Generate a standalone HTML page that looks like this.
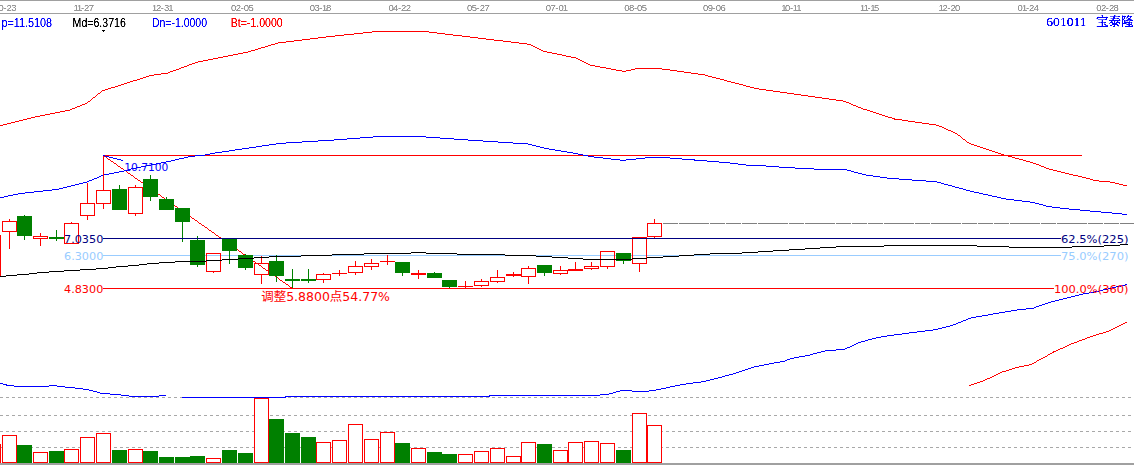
<!DOCTYPE html><html><head><meta charset="utf-8"><title>601011 宝泰隆</title>
<style>html,body{margin:0;padding:0;background:#fff;overflow:hidden}svg{display:block}.d{font-family:"Liberation Sans",sans-serif;font-size:9.5px;fill:#989898}.h{font-family:"Liberation Sans",sans-serif;font-size:12px}.v{font-family:"DejaVu Sans","Noto Sans CJK SC",sans-serif;font-size:11px}.c{font-family:"Liberation Serif","Noto Serif CJK SC",serif;font-size:13px;fill:#0000ff}</style></head><body>
<svg width="1134" height="465" viewBox="0 0 1134 465" shape-rendering="crispEdges">
<defs><filter id="al" x="0" y="0" width="100%" height="100%" filterUnits="userSpaceOnUse" color-interpolation-filters="sRGB"><feComponentTransfer><feFuncA type="linear" slope="2" intercept="-0.3"/></feComponentTransfer></filter><filter id="al2" x="0" y="0" width="100%" height="100%" filterUnits="userSpaceOnUse" color-interpolation-filters="sRGB"><feComponentTransfer><feFuncA type="linear" slope="2.2" intercept="-0.1"/></feComponentTransfer></filter><filter id="al3" x="0" y="0" width="100%" height="100%" filterUnits="userSpaceOnUse" color-interpolation-filters="sRGB"><feComponentTransfer><feFuncA type="linear" slope="1.4" intercept="-0.1"/></feComponentTransfer></filter></defs>
<rect x="0" y="0" width="1134" height="465" fill="#ffffff"/>
<rect x="0" y="0" width="1134" height="1" fill="#a0a0a0"/>
<rect x="0" y="13" width="1134" height="1" fill="#a0a0a0"/>
<rect x="0" y="463" width="1134" height="2" fill="#a0a0a0"/>
<line x1="0" y1="397.5" x2="1134" y2="397.5" stroke="#a8a8a8" stroke-width="1" stroke-dasharray="3 3"/>
<line x1="0" y1="415.5" x2="1134" y2="415.5" stroke="#a8a8a8" stroke-width="1" stroke-dasharray="3 3"/>
<line x1="0" y1="431.5" x2="1134" y2="431.5" stroke="#a8a8a8" stroke-width="1" stroke-dasharray="3 3"/>
<line x1="0" y1="447.5" x2="1134" y2="447.5" stroke="#a8a8a8" stroke-width="1" stroke-dasharray="3 3"/>
<g filter="url(#al)">
<text class="d" x="-5.2 -1.4 3.5 6.6 11.3" y="11">10-23</text>
<text class="d" x="73.5 77.0 81.0 84.0 88.8" y="11">11-27</text>
<text class="d" x="152.1 155.9 160.8 163.9 168.3" y="11">12-31</text>
<text class="d" x="231.1 235.8 240.7 243.8 248.4" y="11">02-05</text>
<text class="d" x="309.7 314.4 319.3 322.1 325.9" y="11">03-18</text>
<text class="d" x="388.4 393.1 397.9 401.1 405.8" y="11">04-22</text>
<text class="d" x="467.0 471.7 476.6 479.7 484.4" y="11">05-27</text>
<text class="d" x="545.7 550.4 555.3 558.4 562.8" y="11">07-01</text>
<text class="d" x="624.3 629.0 633.9 637.0 641.7" y="11">08-05</text>
<text class="d" x="703.0 707.7 712.6 715.7 720.4" y="11">09-06</text>
<text class="d" x="781.3 785.1 790.0 792.8 796.3" y="11">10-11</text>
<text class="d" x="860.0 863.5 867.5 870.2 874.1" y="11">11-15</text>
<text class="d" x="938.6 942.4 947.3 950.4 955.1" y="11">12-20</text>
<text class="d" x="1017.6 1022.0 1026.0 1029.0 1033.8" y="11">01-24</text>
<text class="d" x="1096.2 1100.9 1105.8 1108.9 1113.6" y="11">02-28</text>
<text class="h" x="1.5" y="27" fill="#0000ff" textLength="50.6" lengthAdjust="spacingAndGlyphs">p=11.5108</text>
<text class="h" x="72.6" y="27" fill="#000000" textLength="53.2" lengthAdjust="spacingAndGlyphs">Md=6.3716</text>
<text class="h" x="151.9" y="27" fill="#0000ff" textLength="55.1" lengthAdjust="spacingAndGlyphs">Dn=-1.0000</text>
<text class="h" x="230.7" y="27" fill="#ff0000" textLength="52" lengthAdjust="spacingAndGlyphs">Bt=-1.0000</text>
<text class="c" x="1046.3" y="26.3" filter="url(#al3)" textLength="40.4" lengthAdjust="spacingAndGlyphs">601011</text>
<text class="c" x="1096" y="26.3" filter="url(#al2)" textLength="37.6" lengthAdjust="spacing" style="font-size:12.5px">宝泰隆</text>
</g>
<polygon points="102,30 105,30 103.5,32" fill="#000"/>
<rect x="103" y="155" width="979" height="1" fill="#ff0000"/>
<rect x="103" y="255" width="958" height="1" fill="#99ccff"/>
<rect x="103" y="288" width="951" height="1" fill="#ff0000"/>
<path fill="#ff0000" d="M103 155h1v1h-1zM104 156h2v1h-2zM106 157h1v1h-1zM107 158h1v1h-1zM108 159h2v1h-2zM110 160h1v1h-1zM111 161h2v1h-2zM113 162h1v1h-1zM114 163h2v1h-2zM116 164h1v1h-1zM117 165h1v1h-1zM118 166h2v1h-2zM120 167h1v1h-1zM121 168h2v1h-2zM123 169h1v1h-1zM124 170h2v1h-2zM126 171h1v1h-1zM127 172h1v1h-1zM128 173h2v1h-2zM130 174h1v1h-1zM131 175h2v1h-2zM133 176h1v1h-1zM134 177h1v1h-1zM135 178h2v1h-2zM137 179h1v1h-1zM138 180h2v1h-2zM140 181h1v1h-1zM141 182h2v1h-2zM143 183h1v1h-1zM144 184h1v1h-1zM145 185h2v1h-2zM147 186h1v1h-1zM148 187h2v1h-2zM150 188h1v1h-1zM151 189h2v1h-2zM153 190h1v1h-1zM154 191h1v1h-1zM155 192h2v1h-2zM157 193h1v1h-1zM158 194h2v1h-2zM160 195h1v1h-1zM161 196h1v1h-1zM162 197h2v1h-2zM164 198h1v1h-1zM165 199h2v1h-2zM167 200h1v1h-1zM168 201h2v1h-2zM170 202h1v1h-1zM171 203h1v1h-1zM172 204h2v1h-2zM174 205h1v1h-1zM175 206h2v1h-2zM177 207h1v1h-1zM178 208h2v1h-2zM180 209h1v1h-1zM181 210h1v1h-1zM182 211h2v1h-2zM184 212h1v1h-1zM185 213h2v1h-2zM187 214h1v1h-1zM188 215h1v1h-1zM189 216h2v1h-2zM191 217h1v1h-1zM192 218h2v1h-2zM194 219h1v1h-1zM195 220h2v1h-2zM197 221h1v1h-1zM198 222h1v1h-1zM199 223h2v1h-2zM201 224h1v1h-1zM202 225h2v1h-2zM204 226h1v1h-1zM205 227h2v1h-2zM207 228h1v1h-1zM208 229h1v1h-1zM209 230h2v1h-2zM211 231h1v1h-1zM212 232h2v1h-2zM214 233h1v1h-1zM215 234h1v1h-1zM216 235h2v1h-2zM218 236h1v1h-1zM219 237h2v1h-2zM221 238h1v1h-1zM222 239h2v1h-2zM224 240h1v1h-1zM225 241h1v1h-1zM226 242h2v1h-2zM228 243h1v1h-1zM229 244h2v1h-2zM231 245h1v1h-1zM232 246h2v1h-2zM234 247h1v1h-1zM235 248h1v1h-1zM236 249h2v1h-2zM238 250h1v1h-1zM239 251h2v1h-2zM241 252h1v1h-1zM242 253h1v1h-1zM243 254h2v1h-2zM245 255h1v1h-1zM246 256h2v1h-2zM248 257h1v1h-1zM249 258h2v1h-2zM251 259h1v1h-1zM252 260h1v1h-1zM253 261h2v1h-2zM255 262h1v1h-1zM256 263h2v1h-2zM258 264h1v1h-1zM259 265h2v1h-2zM261 266h1v1h-1zM262 267h1v1h-1zM263 268h2v1h-2zM265 269h1v1h-1zM266 270h2v1h-2zM268 271h1v1h-1zM269 272h1v1h-1zM270 273h2v1h-2zM272 274h1v1h-1zM273 275h2v1h-2zM275 276h1v1h-1zM276 277h2v1h-2zM278 278h1v1h-1zM279 279h1v1h-1zM280 280h2v1h-2zM282 281h1v1h-1zM283 282h2v1h-2zM285 283h1v1h-1zM286 284h2v1h-2zM288 285h1v1h-1zM289 286h1v1h-1zM290 287h2v1h-2zM292 288h1v1h-1z" />
<rect x="663" y="223" width="15" height="1" fill="#808080"/>
<rect x="679" y="223" width="15" height="1" fill="#808080"/>
<rect x="694" y="223" width="15" height="1" fill="#808080"/>
<rect x="710" y="223" width="15" height="1" fill="#808080"/>
<rect x="726" y="223" width="15" height="1" fill="#808080"/>
<rect x="742" y="223" width="15" height="1" fill="#808080"/>
<rect x="758" y="223" width="15" height="1" fill="#808080"/>
<rect x="773" y="223" width="15" height="1" fill="#808080"/>
<rect x="789" y="223" width="15" height="1" fill="#808080"/>
<rect x="805" y="223" width="15" height="1" fill="#808080"/>
<rect x="820" y="223" width="15" height="1" fill="#808080"/>
<rect x="836" y="223" width="15" height="1" fill="#808080"/>
<rect x="852" y="223" width="15" height="1" fill="#808080"/>
<rect x="868" y="223" width="15" height="1" fill="#808080"/>
<rect x="884" y="223" width="15" height="1" fill="#808080"/>
<rect x="899" y="223" width="15" height="1" fill="#808080"/>
<rect x="915" y="223" width="15" height="1" fill="#808080"/>
<rect x="931" y="223" width="15" height="1" fill="#808080"/>
<rect x="946" y="223" width="15" height="1" fill="#808080"/>
<rect x="962" y="223" width="15" height="1" fill="#808080"/>
<rect x="978" y="223" width="15" height="1" fill="#808080"/>
<rect x="994" y="223" width="15" height="1" fill="#808080"/>
<rect x="1010" y="223" width="15" height="1" fill="#808080"/>
<rect x="1025" y="223" width="15" height="1" fill="#808080"/>
<rect x="1041" y="223" width="15" height="1" fill="#808080"/>
<rect x="1057" y="223" width="15" height="1" fill="#808080"/>
<rect x="1072" y="223" width="15" height="1" fill="#808080"/>
<rect x="1088" y="223" width="15" height="1" fill="#808080"/>
<rect x="1104" y="223" width="15" height="1" fill="#808080"/>
<rect x="1120" y="223" width="15" height="1" fill="#808080"/>
<path fill="#ff0000" d="M372 31h57v1h-57zM363 32h9v1h-9zM429 32h8v1h-8zM354 33h9v1h-9zM437 33h8v1h-8zM344 34h10v1h-10zM445 34h8v1h-8zM335 35h9v1h-9zM453 35h9v1h-9zM326 36h9v1h-9zM462 36h8v1h-8zM318 37h8v1h-8zM470 37h8v1h-8zM310 38h8v1h-8zM478 38h8v1h-8zM302 39h8v1h-8zM486 39h8v1h-8zM294 40h8v1h-8zM494 40h9v1h-9zM286 41h8v1h-8zM503 41h8v1h-8zM278 42h8v1h-8zM511 42h8v1h-8zM275 43h3v1h-3zM519 43h8v1h-8zM271 44h4v1h-4zM527 44h4v1h-4zM268 45h3v1h-3zM531 45h2v1h-2zM265 46h3v1h-3zM533 46h2v1h-2zM261 47h4v1h-4zM535 47h2v1h-2zM258 48h3v1h-3zM537 48h2v1h-2zM255 49h3v1h-3zM539 49h2v1h-2zM251 50h4v1h-4zM541 50h2v1h-2zM248 51h3v1h-3zM543 51h4v1h-4zM243 52h5v1h-5zM547 52h5v1h-5zM238 53h5v1h-5zM552 53h5v1h-5zM233 54h5v1h-5zM557 54h5v1h-5zM228 55h5v1h-5zM562 55h4v1h-4zM223 56h5v1h-5zM566 56h5v1h-5zM218 57h5v1h-5zM571 57h5v1h-5zM213 58h5v1h-5zM576 58h2v1h-2zM208 59h5v1h-5zM578 59h2v1h-2zM203 60h5v1h-5zM580 60h2v1h-2zM198 61h5v1h-5zM582 61h2v1h-2zM195 62h3v1h-3zM584 62h2v1h-2zM192 63h3v1h-3zM586 63h2v1h-2zM189 64h3v1h-3zM588 64h2v1h-2zM187 65h2v1h-2zM590 65h5v1h-5zM184 66h3v1h-3zM595 66h5v1h-5zM181 67h3v1h-3zM600 67h6v1h-6zM179 68h2v1h-2zM606 68h5v1h-5zM635 68h27v1h-27zM176 69h3v1h-3zM611 69h5v1h-5zM631 69h4v1h-4zM662 69h8v1h-8zM173 70h3v1h-3zM616 70h6v1h-6zM626 70h5v1h-5zM670 70h7v1h-7zM170 71h3v1h-3zM622 71h4v1h-4zM677 71h7v1h-7zM168 72h2v1h-2zM684 72h7v1h-7zM161 73h7v1h-7zM691 73h7v1h-7zM154 74h7v1h-7zM698 74h7v1h-7zM149 75h5v1h-5zM705 75h3v1h-3zM146 76h3v1h-3zM708 76h4v1h-4zM143 77h3v1h-3zM712 77h4v1h-4zM140 78h3v1h-3zM716 78h4v1h-4zM137 79h3v1h-3zM720 79h4v1h-4zM133 80h4v1h-4zM724 80h3v1h-3zM130 81h3v1h-3zM727 81h4v1h-4zM127 82h3v1h-3zM731 82h4v1h-4zM124 83h3v1h-3zM735 83h4v1h-4zM121 84h3v1h-3zM739 84h4v1h-4zM118 85h3v1h-3zM743 85h3v1h-3zM115 86h3v1h-3zM746 86h4v1h-4zM111 87h4v1h-4zM750 87h4v1h-4zM108 88h3v1h-3zM754 88h5v1h-5zM105 89h3v1h-3zM759 89h7v1h-7zM102 90h3v1h-3zM766 90h7v1h-7zM101 91h1v1h-1zM773 91h7v1h-7zM100 92h1v1h-1zM780 92h7v1h-7zM98 93h2v1h-2zM787 93h7v1h-7zM97 94h1v1h-1zM794 94h7v1h-7zM96 95h1v1h-1zM801 95h7v1h-7zM95 96h1v1h-1zM808 96h7v1h-7zM93 97h2v1h-2zM815 97h7v1h-7zM92 98h1v1h-1zM822 98h7v1h-7zM91 99h1v1h-1zM829 99h7v1h-7zM90 100h1v1h-1zM836 100h7v1h-7zM88 101h2v1h-2zM843 101h3v1h-3zM87 102h1v1h-1zM846 102h3v1h-3zM85 103h2v1h-2zM849 103h2v1h-2zM82 104h3v1h-3zM851 104h2v1h-2zM80 105h2v1h-2zM853 105h3v1h-3zM77 106h3v1h-3zM856 106h2v1h-2zM75 107h2v1h-2zM858 107h3v1h-3zM72 108h3v1h-3zM861 108h2v1h-2zM70 109h2v1h-2zM863 109h4v1h-4zM65 110h5v1h-5zM867 110h3v1h-3zM60 111h5v1h-5zM870 111h3v1h-3zM55 112h5v1h-5zM873 112h3v1h-3zM50 113h5v1h-5zM876 113h3v1h-3zM45 114h5v1h-5zM879 114h3v1h-3zM40 115h5v1h-5zM882 115h3v1h-3zM35 116h5v1h-5zM885 116h3v1h-3zM31 117h4v1h-4zM888 117h4v1h-4zM27 118h4v1h-4zM892 118h3v1h-3zM23 119h4v1h-4zM894 119h8v1h-8zM19 120h4v1h-4zM902 120h6v1h-6zM15 121h4v1h-4zM908 121h7v1h-7zM11 122h4v1h-4zM915 122h7v1h-7zM7 123h4v1h-4zM922 123h7v1h-7zM3 124h4v1h-4zM929 124h7v1h-7zM0 125h3v1h-3zM936 125h3v1h-3zM939 126h3v1h-3zM942 127h2v1h-2zM944 128h2v1h-2zM946 129h2v1h-2zM948 130h3v1h-3zM951 131h2v1h-2zM953 132h2v1h-2zM955 133h2v1h-2zM957 134h1v1h-1zM958 135h2v1h-2zM960 136h1v1h-1zM961 137h1v1h-1zM962 138h1v1h-1zM963 139h2v1h-2zM965 140h1v1h-1zM966 141h1v1h-1zM967 142h2v1h-2zM969 143h2v1h-2zM971 144h3v1h-3zM974 145h3v1h-3zM977 146h3v1h-3zM980 147h3v1h-3zM983 148h3v1h-3zM986 149h3v1h-3zM989 150h3v1h-3zM992 151h3v1h-3zM995 152h3v1h-3zM998 153h3v1h-3zM1001 154h3v1h-3zM1004 155h4v1h-4zM1008 156h4v1h-4zM1012 157h3v1h-3zM1015 158h4v1h-4zM1019 159h4v1h-4zM1023 160h3v1h-3zM1026 161h4v1h-4zM1030 162h3v1h-3zM1033 163h3v1h-3zM1036 164h3v1h-3zM1039 165h2v1h-2zM1041 166h3v1h-3zM1044 167h2v1h-2zM1046 168h3v1h-3zM1049 169h4v1h-4zM1053 170h4v1h-4zM1057 171h4v1h-4zM1061 172h4v1h-4zM1065 173h4v1h-4zM1069 174h4v1h-4zM1073 175h5v1h-5zM1078 176h4v1h-4zM1082 177h4v1h-4zM1086 178h4v1h-4zM1090 179h3v1h-3zM1093 180h6v1h-6zM1099 181h11v1h-11zM1110 182h5v1h-5zM1115 183h4v1h-4zM1119 184h4v1h-4zM1123 185h4v1h-4z" />
<path fill="#ff0000" d="M1125 322h2v1h-2zM1123 323h2v1h-2zM1121 324h2v1h-2zM1119 325h2v1h-2zM1117 326h2v1h-2zM1115 327h2v1h-2zM1113 328h2v1h-2zM1111 329h2v1h-2zM1109 330h2v1h-2zM1106 331h3v1h-3zM1103 332h3v1h-3zM1099 333h4v1h-4zM1096 334h3v1h-3zM1093 335h3v1h-3zM1090 336h3v1h-3zM1087 337h3v1h-3zM1085 338h2v1h-2zM1082 339h3v1h-3zM1079 340h3v1h-3zM1077 341h2v1h-2zM1074 342h3v1h-3zM1071 343h3v1h-3zM1069 344h2v1h-2zM1067 345h2v1h-2zM1065 346h2v1h-2zM1063 347h2v1h-2zM1060 348h3v1h-3zM1058 349h2v1h-2zM1056 350h2v1h-2zM1053 351h3v1h-3zM1052 352h2v1h-2zM1050 353h2v1h-2zM1048 354h2v1h-2zM1047 355h1v1h-1zM1045 356h2v1h-2zM1043 357h2v1h-2zM1041 358h2v1h-2zM1039 359h2v1h-2zM1037 360h2v1h-2zM1036 361h1v1h-1zM1034 362h2v1h-2zM1032 363h2v1h-2zM1029 364h3v1h-3zM1024 365h5v1h-5zM1019 366h5v1h-5zM1015 367h4v1h-4zM1012 368h3v1h-3zM1009 369h3v1h-3zM1006 370h3v1h-3zM1002 371h4v1h-4zM1000 372h2v1h-2zM998 373h2v1h-2zM996 374h2v1h-2zM994 375h2v1h-2zM992 376h2v1h-2zM990 377h2v1h-2zM987 378h3v1h-3zM985 379h2v1h-2zM983 380h2v1h-2zM980 381h3v1h-3zM977 382h3v1h-3zM974 383h3v1h-3zM971 384h3v1h-3zM969 385h2v1h-2z" />
<path fill="#0000ff" d="M373 136h53v1h-53zM360 137h13v1h-13zM426 137h14v1h-14zM347 138h13v1h-13zM440 138h14v1h-14zM334 139h13v1h-13zM454 139h14v1h-14zM318 140h16v1h-16zM468 140h15v1h-15zM302 141h16v1h-16zM483 141h15v1h-15zM286 142h16v1h-16zM498 142h15v1h-15zM276 143h10v1h-10zM513 143h15v1h-15zM269 144h7v1h-7zM528 144h4v1h-4zM262 145h7v1h-7zM532 145h4v1h-4zM256 146h6v1h-6zM536 146h4v1h-4zM249 147h7v1h-7zM540 147h4v1h-4zM242 148h7v1h-7zM544 148h5v1h-5zM235 149h7v1h-7zM549 149h6v1h-6zM229 150h6v1h-6zM555 150h6v1h-6zM222 151h7v1h-7zM561 151h6v1h-6zM215 152h7v1h-7zM567 152h6v1h-6zM210 153h5v1h-5zM573 153h5v1h-5zM205 154h5v1h-5zM578 154h5v1h-5zM195 155h10v1h-10zM583 155h5v1h-5zM188 156h7v1h-7zM588 156h6v1h-6zM184 157h4v1h-4zM594 157h9v1h-9zM645 157h25v1h-25zM179 158h5v1h-5zM603 158h8v1h-8zM636 158h9v1h-9zM670 158h12v1h-12zM175 159h4v1h-4zM611 159h9v1h-9zM626 159h10v1h-10zM682 159h13v1h-13zM171 160h4v1h-4zM620 160h6v1h-6zM694 160h13v1h-13zM166 161h5v1h-5zM707 161h12v1h-12zM161 162h5v1h-5zM719 162h11v1h-11zM156 163h5v1h-5zM730 163h8v1h-8zM151 164h5v1h-5zM738 164h8v1h-8zM146 165h5v1h-5zM746 165h20v1h-20zM141 166h5v1h-5zM766 166h13v1h-13zM136 167h5v1h-5zM779 167h16v1h-16zM131 168h5v1h-5zM795 168h19v1h-19zM128 169h3v1h-3zM814 169h33v1h-33zM124 170h4v1h-4zM847 170h4v1h-4zM119 171h5v1h-5zM851 171h3v1h-3zM114 172h5v1h-5zM854 172h4v1h-4zM109 173h5v1h-5zM858 173h4v1h-4zM104 174h5v1h-5zM862 174h4v1h-4zM101 175h3v1h-3zM866 175h7v1h-7zM99 176h2v1h-2zM873 176h7v1h-7zM97 177h2v1h-2zM880 177h7v1h-7zM94 178h3v1h-3zM887 178h12v1h-12zM92 179h2v1h-2zM899 179h13v1h-13zM89 180h3v1h-3zM912 180h14v1h-14zM87 181h2v1h-2zM926 181h11v1h-11zM83 182h4v1h-4zM937 182h4v1h-4zM79 183h4v1h-4zM941 183h3v1h-3zM75 184h4v1h-4zM944 184h4v1h-4zM71 185h4v1h-4zM948 185h4v1h-4zM67 186h4v1h-4zM952 186h3v1h-3zM63 187h4v1h-4zM955 187h4v1h-4zM59 188h4v1h-4zM959 188h4v1h-4zM52 189h7v1h-7zM963 189h3v1h-3zM43 190h9v1h-9zM966 190h4v1h-4zM34 191h9v1h-9zM970 191h4v1h-4zM25 192h9v1h-9zM974 192h5v1h-5zM18 193h7v1h-7zM979 193h4v1h-4zM13 194h5v1h-5zM983 194h5v1h-5zM8 195h5v1h-5zM988 195h4v1h-4zM4 196h4v1h-4zM992 196h5v1h-5zM0 197h4v1h-4zM997 197h4v1h-4zM1001 198h5v1h-5zM1006 199h8v1h-8zM1014 200h8v1h-8zM1022 201h8v1h-8zM1030 202h5v1h-5zM1035 203h4v1h-4zM1039 204h4v1h-4zM1043 205h3v1h-3zM1046 206h6v1h-6zM1052 207h8v1h-8zM1060 208h9v1h-9zM1069 209h11v1h-11zM1080 210h10v1h-10zM1090 211h11v1h-11zM1101 212h11v1h-11zM1112 213h10v1h-10zM1122 214h5v1h-5z" />
<path fill="#0000ff" d="M0 383h3v1h-3zM3 384h4v1h-4zM6 385h8v1h-8zM49 385h8v1h-8zM14 386h35v1h-35zM57 386h8v1h-8zM65 387h10v1h-10zM75 388h8v1h-8zM83 389h6v1h-6zM89 390h4v1h-4zM93 391h4v1h-4zM97 392h3v1h-3zM100 393h10v1h-10zM110 394h11v1h-11zM121 395h8v1h-8zM159 395h7v1h-7zM129 396h30v1h-30z" />
<path fill="#0000ff" d="M1125 284h2v1h-2zM1121 285h4v1h-4zM1116 286h5v1h-5zM1112 287h4v1h-4zM1108 288h4v1h-4zM1103 289h5v1h-5zM1099 290h4v1h-4zM1094 291h5v1h-5zM1089 292h5v1h-5zM1083 293h6v1h-6zM1079 294h4v1h-4zM1075 295h4v1h-4zM1071 296h4v1h-4zM1067 297h4v1h-4zM1063 298h4v1h-4zM1059 299h4v1h-4zM1055 300h4v1h-4zM1051 301h4v1h-4zM1048 302h3v1h-3zM1045 303h3v1h-3zM1042 304h3v1h-3zM1039 305h3v1h-3zM1036 306h3v1h-3zM1034 307h2v1h-2zM1026 308h8v1h-8zM1017 309h9v1h-9zM1011 310h6v1h-6zM1005 311h6v1h-6zM999 312h6v1h-6zM993 313h6v1h-6zM988 314h5v1h-5zM982 315h6v1h-6zM976 316h6v1h-6zM971 317h5v1h-5zM968 318h3v1h-3zM966 319h2v1h-2zM963 320h3v1h-3zM961 321h2v1h-2zM958 322h3v1h-3zM956 323h2v1h-2zM953 324h3v1h-3zM950 325h3v1h-3zM946 326h4v1h-4zM942 327h4v1h-4zM938 328h4v1h-4zM933 329h5v1h-5zM925 330h8v1h-8zM917 331h8v1h-8zM909 332h8v1h-8zM902 333h7v1h-7zM894 334h8v1h-8zM887 335h7v1h-7zM881 336h6v1h-6zM876 337h5v1h-5zM872 338h4v1h-4zM868 339h4v1h-4zM865 340h3v1h-3zM861 341h4v1h-4zM858 342h3v1h-3zM856 343h2v1h-2zM854 344h2v1h-2zM852 345h2v1h-2zM850 346h2v1h-2zM847 347h3v1h-3zM845 348h2v1h-2zM836 349h9v1h-9zM825 350h11v1h-11zM821 351h4v1h-4zM817 352h4v1h-4zM813 353h4v1h-4zM810 354h3v1h-3zM805 355h5v1h-5zM799 356h6v1h-6zM794 357h5v1h-5zM790 358h4v1h-4zM787 359h3v1h-3zM785 360h2v1h-2zM780 361h5v1h-5zM774 362h6v1h-6zM769 363h5v1h-5zM764 364h5v1h-5zM759 365h5v1h-5zM754 366h5v1h-5zM751 367h3v1h-3zM748 368h3v1h-3zM745 369h3v1h-3zM742 370h3v1h-3zM739 371h3v1h-3zM736 372h3v1h-3zM733 373h3v1h-3zM729 374h4v1h-4zM725 375h4v1h-4zM722 376h3v1h-3zM718 377h4v1h-4zM714 378h4v1h-4zM710 379h4v1h-4zM706 380h4v1h-4zM701 381h5v1h-5zM693 382h8v1h-8zM686 383h7v1h-7zM680 384h6v1h-6zM675 385h5v1h-5zM670 386h5v1h-5zM666 387h4v1h-4zM661 388h5v1h-5zM656 389h5v1h-5zM620 390h12v1h-12zM649 390h7v1h-7zM616 391h4v1h-4zM632 391h17v1h-17zM613 392h3v1h-3zM609 393h4v1h-4zM600 394h9v1h-9zM489 395h111v1h-111zM285 396h205v1h-205zM182 397h104v1h-104z" />
<rect x="-13.5" y="235.5" width="14" height="41" fill="none" stroke="#ff0000" stroke-width="1"/>
<rect x="9" y="219" width="1" height="2" fill="#ff0000"/>
<rect x="9" y="232" width="1" height="17" fill="#ff0000"/>
<rect x="2.5" y="221.5" width="14" height="10" fill="none" stroke="#ff0000" stroke-width="1"/>
<rect x="24" y="215" width="1" height="25" fill="#008000"/>
<rect x="17" y="216" width="15" height="20" fill="#008000"/>
<rect x="40" y="233" width="1" height="3" fill="#ff0000"/>
<rect x="40" y="239" width="1" height="7" fill="#ff0000"/>
<rect x="33.5" y="236.5" width="14" height="2" fill="none" stroke="#ff0000" stroke-width="1"/>
<rect x="56" y="230" width="1" height="11" fill="#008000"/>
<rect x="49" y="237" width="15" height="2" fill="#008000"/>
<rect x="71" y="222" width="1" height="1" fill="#ff0000"/>
<rect x="64.5" y="223.5" width="14" height="20" fill="none" stroke="#ff0000" stroke-width="1"/>
<rect x="87" y="183" width="1" height="20" fill="#ff0000"/>
<rect x="87" y="216" width="1" height="4" fill="#ff0000"/>
<rect x="80.5" y="203.5" width="14" height="12" fill="none" stroke="#ff0000" stroke-width="1"/>
<rect x="103" y="155" width="1" height="35" fill="#ff0000"/>
<rect x="103" y="204" width="1" height="5" fill="#ff0000"/>
<rect x="96.5" y="190.5" width="14" height="13" fill="none" stroke="#ff0000" stroke-width="1"/>
<rect x="119" y="185" width="1" height="25" fill="#008000"/>
<rect x="112" y="189" width="15" height="21" fill="#008000"/>
<rect x="135" y="185" width="1" height="2" fill="#ff0000"/>
<rect x="135" y="214" width="1" height="2" fill="#ff0000"/>
<rect x="128.5" y="187.5" width="14" height="26" fill="none" stroke="#ff0000" stroke-width="1"/>
<rect x="150" y="175" width="1" height="26" fill="#008000"/>
<rect x="143" y="179" width="15" height="18" fill="#008000"/>
<rect x="166" y="197" width="1" height="13" fill="#008000"/>
<rect x="159" y="199" width="15" height="11" fill="#008000"/>
<rect x="182" y="208" width="1" height="34" fill="#008000"/>
<rect x="175" y="208" width="15" height="14" fill="#008000"/>
<rect x="197" y="236" width="1" height="31" fill="#008000"/>
<rect x="190" y="240" width="15" height="25" fill="#008000"/>
<rect x="213" y="272" width="1" height="1" fill="#ff0000"/>
<rect x="206.5" y="253.5" width="14" height="18" fill="none" stroke="#ff0000" stroke-width="1"/>
<rect x="229" y="239" width="1" height="25" fill="#008000"/>
<rect x="222" y="239" width="15" height="12" fill="#008000"/>
<rect x="245" y="254" width="1" height="16" fill="#008000"/>
<rect x="238" y="255" width="15" height="13" fill="#008000"/>
<rect x="261" y="256" width="1" height="7" fill="#ff0000"/>
<rect x="261" y="275" width="1" height="9" fill="#ff0000"/>
<rect x="254.5" y="263.5" width="14" height="11" fill="none" stroke="#ff0000" stroke-width="1"/>
<rect x="276" y="255" width="1" height="27" fill="#008000"/>
<rect x="269" y="261" width="15" height="15" fill="#008000"/>
<rect x="292" y="269" width="1" height="19" fill="#008000"/>
<rect x="285" y="279" width="15" height="2" fill="#008000"/>
<rect x="308" y="269" width="1" height="14" fill="#008000"/>
<rect x="301" y="279" width="15" height="2" fill="#008000"/>
<rect x="323" y="273" width="1" height="1" fill="#ff0000"/>
<rect x="323" y="280" width="1" height="3" fill="#ff0000"/>
<rect x="316.5" y="274.5" width="14" height="5" fill="none" stroke="#ff0000" stroke-width="1"/>
<rect x="339" y="270" width="1" height="6" fill="#ff0000"/>
<rect x="332" y="273" width="15" height="1" fill="#ff0000"/>
<rect x="355" y="261" width="1" height="5" fill="#ff0000"/>
<rect x="355" y="273" width="1" height="2" fill="#ff0000"/>
<rect x="348.5" y="266.5" width="14" height="6" fill="none" stroke="#ff0000" stroke-width="1"/>
<rect x="371" y="259" width="1" height="4" fill="#ff0000"/>
<rect x="371" y="267" width="1" height="3" fill="#ff0000"/>
<rect x="364.5" y="263.5" width="14" height="3" fill="none" stroke="#ff0000" stroke-width="1"/>
<rect x="387" y="255" width="1" height="10" fill="#ff0000"/>
<rect x="380" y="261" width="15" height="1" fill="#ff0000"/>
<rect x="402" y="262" width="1" height="14" fill="#008000"/>
<rect x="395" y="262" width="15" height="11" fill="#008000"/>
<rect x="418" y="270" width="1" height="9" fill="#ff0000"/>
<rect x="411" y="273" width="15" height="2" fill="#ff0000"/>
<rect x="434" y="272" width="1" height="6" fill="#008000"/>
<rect x="427" y="273" width="15" height="5" fill="#008000"/>
<rect x="449" y="280" width="1" height="8" fill="#008000"/>
<rect x="442" y="280" width="15" height="7" fill="#008000"/>
<rect x="465" y="281" width="1" height="7" fill="#ff0000"/>
<rect x="458" y="286" width="15" height="1" fill="#ff0000"/>
<rect x="481" y="279" width="1" height="2" fill="#ff0000"/>
<rect x="481" y="286" width="1" height="1" fill="#ff0000"/>
<rect x="474.5" y="281.5" width="14" height="4" fill="none" stroke="#ff0000" stroke-width="1"/>
<rect x="497" y="270" width="1" height="7" fill="#ff0000"/>
<rect x="497" y="282" width="1" height="1" fill="#ff0000"/>
<rect x="490.5" y="277.5" width="14" height="4" fill="none" stroke="#ff0000" stroke-width="1"/>
<rect x="513" y="272" width="1" height="5" fill="#ff0000"/>
<rect x="506" y="274" width="15" height="2" fill="#ff0000"/>
<rect x="528" y="266" width="1" height="2" fill="#ff0000"/>
<rect x="528" y="277" width="1" height="7" fill="#ff0000"/>
<rect x="521.5" y="268.5" width="14" height="8" fill="none" stroke="#ff0000" stroke-width="1"/>
<rect x="544" y="265" width="1" height="11" fill="#008000"/>
<rect x="537" y="265" width="15" height="8" fill="#008000"/>
<rect x="560" y="266" width="1" height="4" fill="#ff0000"/>
<rect x="560" y="274" width="1" height="1" fill="#ff0000"/>
<rect x="553.5" y="270.5" width="14" height="3" fill="none" stroke="#ff0000" stroke-width="1"/>
<rect x="575" y="262" width="1" height="8" fill="#ff0000"/>
<rect x="568" y="269" width="15" height="2" fill="#ff0000"/>
<rect x="591" y="262" width="1" height="4" fill="#ff0000"/>
<rect x="591" y="269" width="1" height="1" fill="#ff0000"/>
<rect x="584.5" y="266.5" width="14" height="2" fill="none" stroke="#ff0000" stroke-width="1"/>
<rect x="607" y="267" width="1" height="2" fill="#ff0000"/>
<rect x="600.5" y="251.5" width="14" height="15" fill="none" stroke="#ff0000" stroke-width="1"/>
<rect x="623" y="253" width="1" height="11" fill="#008000"/>
<rect x="616" y="253" width="15" height="8" fill="#008000"/>
<rect x="639" y="264" width="1" height="8" fill="#ff0000"/>
<rect x="632.5" y="237.5" width="14" height="26" fill="none" stroke="#ff0000" stroke-width="1"/>
<rect x="654" y="219" width="1" height="4" fill="#ff0000"/>
<rect x="654" y="237" width="1" height="1" fill="#ff0000"/>
<rect x="647.5" y="223.5" width="14" height="13" fill="none" stroke="#ff0000" stroke-width="1"/>
<rect x="-13.5" y="444.5" width="14" height="18" fill="#ffffff" stroke="#ff0000" stroke-width="1"/>
<rect x="2.5" y="435.5" width="14" height="27" fill="#ffffff" stroke="#ff0000" stroke-width="1"/>
<rect x="17" y="445" width="15" height="18" fill="#008000"/>
<rect x="33.5" y="452.5" width="14" height="10" fill="#ffffff" stroke="#ff0000" stroke-width="1"/>
<rect x="49" y="451" width="15" height="12" fill="#008000"/>
<rect x="64.5" y="449.5" width="14" height="13" fill="#ffffff" stroke="#ff0000" stroke-width="1"/>
<rect x="80.5" y="437.5" width="14" height="25" fill="#ffffff" stroke="#ff0000" stroke-width="1"/>
<rect x="96.5" y="433.5" width="14" height="29" fill="#ffffff" stroke="#ff0000" stroke-width="1"/>
<rect x="112" y="450" width="15" height="13" fill="#008000"/>
<rect x="128.5" y="449.5" width="14" height="13" fill="#ffffff" stroke="#ff0000" stroke-width="1"/>
<rect x="143" y="451" width="15" height="12" fill="#008000"/>
<rect x="159" y="457" width="15" height="6" fill="#008000"/>
<rect x="175" y="457" width="15" height="6" fill="#008000"/>
<rect x="190" y="456" width="15" height="7" fill="#008000"/>
<rect x="206.5" y="458.5" width="14" height="4" fill="#ffffff" stroke="#ff0000" stroke-width="1"/>
<rect x="222" y="450" width="15" height="13" fill="#008000"/>
<rect x="238" y="453" width="15" height="10" fill="#008000"/>
<rect x="254.5" y="398.5" width="14" height="64" fill="#ffffff" stroke="#ff0000" stroke-width="1"/>
<rect x="269" y="419" width="15" height="44" fill="#008000"/>
<rect x="285" y="433" width="15" height="30" fill="#008000"/>
<rect x="301" y="437" width="15" height="26" fill="#008000"/>
<rect x="316.5" y="442.5" width="14" height="20" fill="#ffffff" stroke="#ff0000" stroke-width="1"/>
<rect x="332.5" y="440.5" width="14" height="22" fill="#ffffff" stroke="#ff0000" stroke-width="1"/>
<rect x="348.5" y="424.5" width="14" height="38" fill="#ffffff" stroke="#ff0000" stroke-width="1"/>
<rect x="364.5" y="439.5" width="14" height="23" fill="#ffffff" stroke="#ff0000" stroke-width="1"/>
<rect x="380.5" y="432.5" width="14" height="30" fill="#ffffff" stroke="#ff0000" stroke-width="1"/>
<rect x="395" y="443" width="15" height="20" fill="#008000"/>
<rect x="411.5" y="448.5" width="14" height="14" fill="#ffffff" stroke="#ff0000" stroke-width="1"/>
<rect x="427" y="452" width="15" height="11" fill="#008000"/>
<rect x="442" y="454" width="15" height="9" fill="#008000"/>
<rect x="458.5" y="454.5" width="14" height="8" fill="#ffffff" stroke="#ff0000" stroke-width="1"/>
<rect x="474.5" y="451.5" width="14" height="11" fill="#ffffff" stroke="#ff0000" stroke-width="1"/>
<rect x="490.5" y="448.5" width="14" height="14" fill="#ffffff" stroke="#ff0000" stroke-width="1"/>
<rect x="506.5" y="456.5" width="14" height="6" fill="#ffffff" stroke="#ff0000" stroke-width="1"/>
<rect x="521.5" y="442.5" width="14" height="20" fill="#ffffff" stroke="#ff0000" stroke-width="1"/>
<rect x="537" y="444" width="15" height="19" fill="#008000"/>
<rect x="553.5" y="450.5" width="14" height="12" fill="#ffffff" stroke="#ff0000" stroke-width="1"/>
<rect x="568.5" y="442.5" width="14" height="20" fill="#ffffff" stroke="#ff0000" stroke-width="1"/>
<rect x="584.5" y="441.5" width="14" height="21" fill="#ffffff" stroke="#ff0000" stroke-width="1"/>
<rect x="600.5" y="443.5" width="14" height="19" fill="#ffffff" stroke="#ff0000" stroke-width="1"/>
<rect x="616" y="450" width="15" height="13" fill="#008000"/>
<rect x="632.5" y="413.5" width="14" height="49" fill="#ffffff" stroke="#ff0000" stroke-width="1"/>
<rect x="647.5" y="425.5" width="14" height="37" fill="#ffffff" stroke="#ff0000" stroke-width="1"/>
<rect x="103" y="238" width="958" height="1" fill="#000080"/>
<path fill="#000000" d="M1120 244h8v1h-8zM884 245h93v1h-93zM1104 245h16v1h-16zM836 246h48v1h-48zM977 246h32v1h-32zM1072 246h32v1h-32zM820 247h16v1h-16zM1009 247h63v1h-63zM805 248h15v1h-15zM789 249h16v1h-16zM773 250h16v1h-16zM758 251h15v1h-15zM411 252h15v1h-15zM742 252h16v1h-16zM364 253h47v1h-47zM426 253h31v1h-31zM710 253h32v1h-32zM332 254h32v1h-32zM457 254h48v1h-48zM694 254h16v1h-16zM301 255h31v1h-31zM505 255h31v1h-31zM679 255h15v1h-15zM269 256h32v1h-32zM536 256h16v1h-16zM663 256h16v1h-16zM254 257h15v1h-15zM552 257h16v1h-16zM647 257h16v1h-16zM238 258h16v1h-16zM568 258h15v1h-15zM632 258h15v1h-15zM222 259h16v1h-16zM583 259h49v1h-49zM206 260h16v1h-16zM175 261h31v1h-31zM159 262h16v1h-16zM147 263h12v1h-12zM139 264h8v1h-8zM128 265h11v1h-11zM116 266h12v1h-12zM108 267h8v1h-8zM96 268h12v1h-12zM80 269h16v1h-16zM64 270h16v1h-16zM49 271h15v1h-15zM37 272h12v1h-12zM29 273h8v1h-8zM17 274h12v1h-12zM6 275h11v1h-11zM0 276h6v1h-6z" />
<path fill="#0000ff" d="M103 155h2v1h-2zM105 156h4v1h-4zM109 157h4v1h-4zM113 158h4v1h-4zM117 159h4v1h-4zM121 160h2v1h-2z" />
<text class="v" x="124.3" y="170.7" fill="#0000ff" textLength="44" lengthAdjust="spacingAndGlyphs">10.7100</text>
<text class="v" x="64" y="243" fill="#000080" textLength="39.3" lengthAdjust="spacingAndGlyphs">7.0350</text>
<text class="v" x="64" y="260" fill="#99ccff" textLength="39.3" lengthAdjust="spacingAndGlyphs">6.3000</text>
<text class="v" x="64" y="293" fill="#ff0000" textLength="39.3" lengthAdjust="spacingAndGlyphs">4.8300</text>
<text class="v" x="1061" y="243" fill="#000080" textLength="67.5" lengthAdjust="spacingAndGlyphs">62.5%(225)</text>
<text class="v" x="1061" y="260" fill="#99ccff" textLength="67.5" lengthAdjust="spacingAndGlyphs">75.0%(270)</text>
<text class="v" x="1054" y="293" fill="#ff0000" textLength="74.5" lengthAdjust="spacingAndGlyphs">100.0%(360)</text>
<text class="v" x="261.2" y="300.5" fill="#ff0000" style="font-size:12px" textLength="128.8" lengthAdjust="spacingAndGlyphs">调整5.8800点54.77%</text>
</svg></body></html>
